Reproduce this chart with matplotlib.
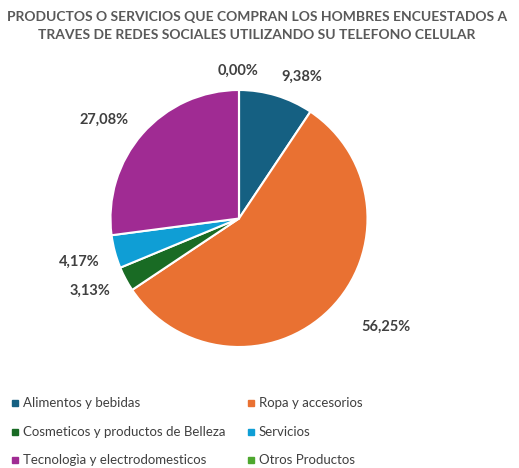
import matplotlib
matplotlib.use("Agg")
import matplotlib.pyplot as plt
from matplotlib.patches import Rectangle

plt.rcParams['font.family'] = ['Lato', 'DejaVu Sans']

title = "PRODUCTOS O SERVICIOS QUE COMPRAN LOS HOMBRES ENCUESTADOS A\nTRAVES DE REDES SOCIALES UTILIZANDO SU TELEFONO CELULAR"
categories = ["Alimentos y bebidas", "Ropa y accesorios",
              "Cosmeticos y productos de Belleza", "Servicios",
              "Tecnologìa y electrodomesticos", "Otros Productos"]
values = [9.38, 56.25, 3.13, 4.17, 27.08, 0.00]
colors = ["#156082", "#E97132", "#196B24", "#0F9ED5", "#A02B93", "#4EA72E"]

# label positions in pie units (radius = 1)
label_pos = [(0.49, 1.10), (1.14, -0.84), (-1.16, -0.56),
             (-1.24, -0.34), (-1.05, 0.77), (-0.01, 1.15)]

W, H = 519, 468
fig = plt.figure(figsize=(W / 100, H / 100), dpi=100)

cx, cy, R = 239, 218.5, 128.5
ax = fig.add_axes([(cx - R) / W, 1 - (cy + R) / H, 2 * R / W, 2 * R / H])
ax.pie(values, colors=colors, startangle=90, counterclock=False,
       wedgeprops=dict(edgecolor="white", linewidth=1.5))
ax.set_xlim(-1, 1)
ax.set_ylim(-1, 1)
ax.set_aspect("equal")

for v, (x, y) in zip(values, label_pos):
    ax.text(x, y, f"{v:.2f}%".replace(".", ","), ha="center", va="center",
            fontsize=10.5, fontweight="bold", color="#404040", clip_on=False)

fig.text(257 / W, 1 - 26 / H, title, ha="center", va="center", fontsize=10,
         fontweight="bold", color="#595959", linespacing=1.55)

# legend, two columns
col_x = [12, 248]
row_y = [403, 432, 460]
for i, (name, c) in enumerate(zip(categories, colors)):
    x = col_x[i % 2]
    y = row_y[i // 2]
    fig.patches.append(Rectangle((x / W, 1 - (y + 3) / H), 6 / W, 6 / H,
                                 transform=fig.transFigure, color=c))
    fig.text((x + 11) / W, 1 - y / H, name, ha="left", va="center",
             fontsize=9.5, color="#404040")

fig.savefig("out.png", dpi=100)
